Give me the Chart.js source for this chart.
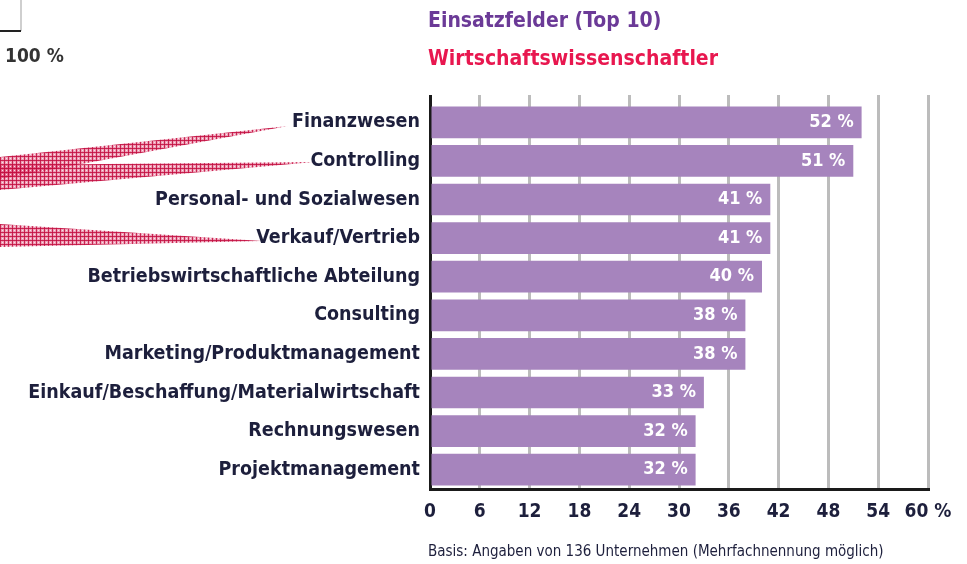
<!DOCTYPE html>
<html>
<head>
<meta charset="utf-8">
<script src="https://cdn.jsdelivr.net/npm/chart.js@4.4.1/dist/chart.umd.min.js"></script>
<style>
  html, body { margin: 0; padding: 0; background: #fff; }
  #wrap { width: 967px; height: 564px; position: relative; }
</style>
</head>
<body>
<div id="wrap"><canvas id="chart"></canvas></div>
<script>
// Einsatzfelder (Top 10) - Wirtschaftswissenschaftler
const categories = [
  'Finanzwesen',
  'Controlling',
  'Personal- und Sozialwesen',
  'Verkauf/Vertrieb',
  'Betriebswirtschaftliche Abteilung',
  'Consulting',
  'Marketing/Produktmanagement',
  'Einkauf/Beschaffung/Materialwirtschaft',
  'Rechnungswesen',
  'Projektmanagement'
];
const shares = [52, 51, 41, 41, 40, 38, 38, 33, 32, 32];
const xTicks = [0, 6, 12, 18, 24, 30, 36, 42, 48, 54, 60];

const FONT = '"DejaVu Sans Condensed", "Liberation Sans Narrow", sans-serif';
const NAVY = '#1d1f3c';

// Titel, Fussnote, Reste der linken Grafik
const decoPlugin = {
  id: 'deco',
  beforeDraw(chart) {
    const c = chart.ctx;
    const area = chart.chartArea;
    c.save();

    // Ecke vom Kasten oben links
    c.strokeStyle = '#cfcfcf';
    c.lineWidth = 2;
    c.beginPath(); c.moveTo(21, 0); c.lineTo(21, 31); c.stroke();
    c.strokeStyle = '#222';
    c.lineWidth = 2;
    c.beginPath(); c.moveTo(0, 31); c.lineTo(21, 31); c.stroke();
    c.fillStyle = '#333';
    c.font = 'bold 19px ' + FONT;
    c.textBaseline = 'middle';
    c.fillText('100 %', 5, 57);

    // schraffierte Verbindungskeile
    const pc = document.createElement('canvas');
    pc.width = 4; pc.height = 4;
    const p = pc.getContext('2d');
    p.fillStyle = 'rgba(215,40,90,0.45)';
    p.fillRect(0, 0, 4, 4);
    p.fillStyle = 'rgba(195,15,65,0.85)';
    p.fillRect(0, 0, 4, 1);
    p.fillRect(0, 0, 1, 4);
    p.fillStyle = 'rgba(255,255,255,0.7)';
    p.fillRect(2, 2, 1, 1);
    c.fillStyle = c.createPattern(pc, 'repeat');
    const wedges = [
      [[0, 157], [288, 126], [0, 179]],
      [[0, 165], [314, 162], [0, 190]],
      [[0, 224], [262, 241], [0, 247]]
    ];
    wedges.forEach(w => {
      c.beginPath();
      c.moveTo(w[0][0], w[0][1]);
      c.lineTo(w[1][0], w[1][1]);
      c.lineTo(w[2][0], w[2][1]);
      c.closePath();
      c.fill();
    });

    // Titel
    c.textAlign = 'left';
    c.textBaseline = 'middle';
    c.fillStyle = '#6b3a97';
    c.font = 'bold 21px ' + FONT;
    c.fillText('Einsatzfelder (Top 10)', area.left - 2, 22);
    c.fillStyle = '#e8174f';
    c.fillText('Wirtschaftswissenschaftler', area.left - 2, 60);

    // Fussnote
    c.fillStyle = NAVY;
    c.font = '15px ' + FONT;
    c.fillText('Basis: Angaben von 136 Unternehmen (Mehrfachnennung möglich)', area.left - 2, 552);
    c.restore();
  },
  afterDatasetsDraw(chart) {
    const c = chart.ctx;
    const meta = chart.getDatasetMeta(0);
    c.save();
    c.fillStyle = '#ffffff';
    c.font = 'bold 18px ' + FONT;
    c.textAlign = 'right';
    c.textBaseline = 'middle';
    meta.data.forEach((bar, i) => {
      c.fillText(shares[i] + ' %', bar.x - 8, bar.y);
    });
    c.restore();
  }
};

new Chart(document.getElementById('chart'), {
  type: 'bar',
  data: {
    labels: categories,
    datasets: [{
      data: shares,
      backgroundColor: '#a684bd',
      borderWidth: 0,
      barPercentage: 0.82,
      categoryPercentage: 1
    }]
  },
  options: {
    indexAxis: 'y',
    responsive: true,
    maintainAspectRatio: false,
    animation: false,
    layout: { padding: { top: 95, right: 39, bottom: 0, left: 0 } },
    plugins: { legend: { display: false }, tooltip: { enabled: false } },
    scales: {
      x: {
        position: 'bottom',
        min: 0, max: 60,
        afterBuildTicks: s => { s.ticks = xTicks.map(v => ({ value: v })); },
        afterFit: s => { s.height = 75; },
        grid: { color: '#bcbcbc', lineWidth: 3, drawTicks: false },
        border: { display: true, color: '#1a1a1a', width: 3 },
        ticks: {
          padding: 12,
          maxRotation: 0,
          minRotation: 0,
          autoSkip: false,
          color: NAVY,
          font: { family: FONT, size: 19, weight: 'bold' },
          callback: v => v === 60 ? '60 %' : String(v)
        }
      },
      x2: {
        position: 'top',
        min: 0, max: 60,
        afterBuildTicks: s => { s.ticks = xTicks.map(v => ({ value: v })); },
        afterFit: s => { s.height = 8; },
        grid: {
          drawOnChartArea: false,
          drawTicks: true,
          tickLength: 8,
          lineWidth: 3,
          color: ctx => (ctx.tick && ctx.tick.value === 0) ? '#1a1a1a' : '#bcbcbc'
        },
        border: { display: false },
        ticks: { display: false, maxRotation: 0 }
      },
      y: {
        afterFit: s => { s.width = 430; },
        grid: { display: false, drawTicks: false },
        border: { display: true, color: '#1a1a1a', width: 3 },
        ticks: {
          padding: 10,
          color: NAVY,
          font: { family: FONT, size: 19.5, weight: 'bold' }
        }
      }
    }
  },
  plugins: [decoPlugin]
});
</script>
</body>
</html>
